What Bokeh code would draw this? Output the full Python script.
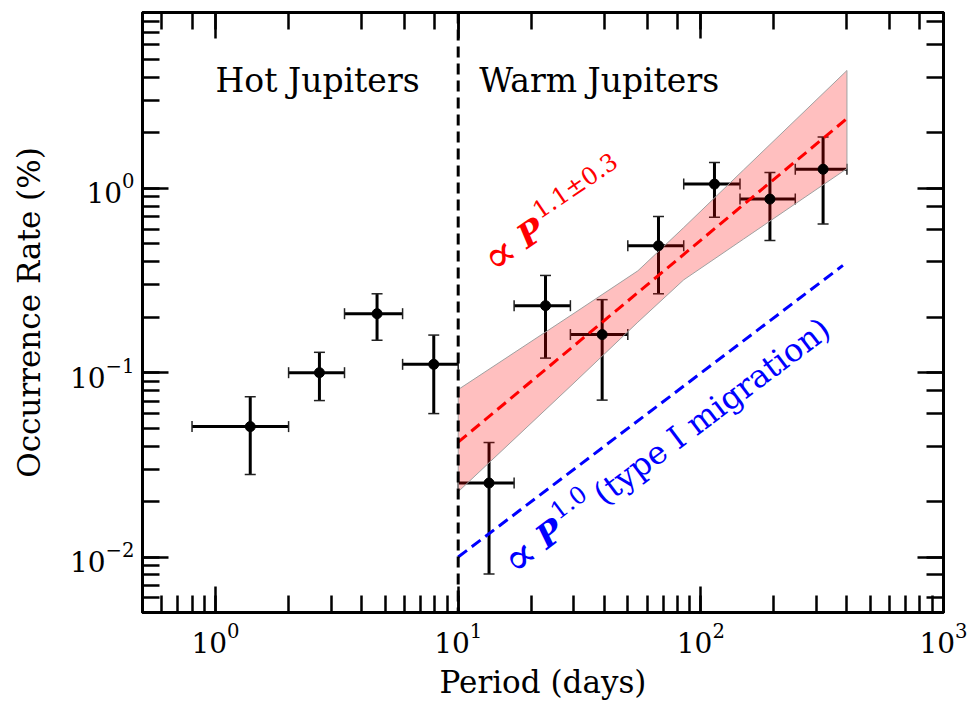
import math
from bokeh.plotting import figure
from bokeh.models import (Whisker, TeeHead, ColumnDataSource, Label, Span, LogAxis,
                          LogTicker, CustomJSTickFormatter, Range1d)
from bokeh.embed import file_html
from bokeh.resources import INLINE

# ---- data ----
period      = [1.39, 2.68, 4.63, 7.93, 13.4, 22.9, 39.2, 66.9, 113.8, 192.6, 319.0]
period_lo   = [0.80, 2.0, 3.4, 5.9, 10.0, 17.0, 29.0, 50.0, 85.0, 145.0, 245.0]
period_hi   = [2.0, 3.4, 5.9, 10.0, 17.0, 29.0, 50.0, 85.0, 145.0, 245.0, 400.0]
rate        = [0.051, 0.100, 0.209, 0.111, 0.0252, 0.231, 0.161, 0.488, 1.055, 0.875, 1.27]
rate_lo     = [0.028, 0.0706, 0.150, 0.060, 0.0081, 0.120, 0.071, 0.268, 0.697, 0.521, 0.641]
rate_hi     = [0.074, 0.129, 0.268, 0.160, 0.0418, 0.337, 0.249, 0.703, 1.38, 1.22, 1.90]

fit_x       = [10.0, 395.0]
fit_y       = [0.042, 2.36]
band_x      = [10.0, 30.0, 55.0, 85.0, 150.0, 400.0]
band_lo     = [0.0226, 0.088, 0.188, 0.319, 0.531, 1.28]
band_hi     = [0.081, 0.210, 0.357, 0.613, 1.26, 4.36]
mig_x       = [10.0, 385.0]
mig_y       = [0.010, 0.382]
divide_P    = 10.0

FONT = "DejaVu Serif"

p = figure(width=976, height=702, x_axis_type="log", y_axis_type="log",
           x_range=Range1d(0.5, 1000), y_range=Range1d(0.005, 9.0),
           output_backend="svg", toolbar_location=None,
           min_border_left=142, min_border_right=33, min_border_top=12, min_border_bottom=89)
p.xgrid.visible = False
p.ygrid.visible = False
p.background_fill_color = "white"
p.border_fill_color = "white"
p.outline_line_color = "black"
p.outline_line_width = 3
p.outline_line_alpha = 1.0

def style_axis(ax, labels=True):
    ax.axis_line_color = "black"
    ax.axis_line_width = 3
    ax.major_tick_in = 26
    ax.major_tick_out = 0
    ax.minor_tick_in = 17
    ax.minor_tick_out = 0
    ax.major_tick_line_width = 2.5
    ax.minor_tick_line_width = 2.5
    ax.major_tick_line_color = "black"
    ax.minor_tick_line_color = "black"
    ax.major_label_text_font = FONT
    ax.major_label_text_font_size = "28px"
    ax.major_label_text_color = "black"
    ax.axis_label_text_font = FONT
    ax.axis_label_text_font_size = "31px"
    ax.axis_label_text_font_style = "normal"
    ax.axis_label_text_color = "black"
    if not labels:
        ax.formatter = CustomJSTickFormatter(code="return ''")
        ax.major_label_standoff = 0

style_axis(p.xaxis[0])
style_axis(p.yaxis[0])
p.xaxis[0].axis_label = "Period (days)"
p.yaxis[0].axis_label = "Occurrence Rate (%)"
p.xaxis[0].major_label_standoff = 10
p.yaxis[0].major_label_standoff = 8
p.xaxis[0].axis_label_standoff = 8
p.yaxis[0].axis_label_standoff = 20

right = LogAxis(ticker=LogTicker())
above = LogAxis(ticker=LogTicker())
style_axis(right, labels=False)
style_axis(above, labels=False)
p.add_layout(right, "right")
p.add_layout(above, "above")

# band
band_poly_x = band_x + band_x[::-1]
band_poly_y = band_lo + band_hi[::-1]
p.patch(band_poly_x, band_poly_y, fill_color="red", fill_alpha=0.25,
        line_color="#a0a0a0", line_width=1)

# fit lines
p.line(fit_x, fit_y, line_color="red", line_width=3, line_dash="11 6")
p.line(mig_x, mig_y, line_color="blue", line_width=3, line_dash="11 6")

# separator
p.add_layout(Span(location=divide_P, dimension="height", line_color="black",
                  line_width=3, line_dash="11 6"))

# error bars
src = ColumnDataSource(dict(x=period, y=rate, xlo=period_lo, xhi=period_hi,
                            ylo=rate_lo, yhi=rate_hi))
for dim, base, lo, hi in (("height", "x", "ylo", "yhi"), ("width", "y", "xlo", "xhi")):
    w = Whisker(source=src, base=base, lower=lo, upper=hi, dimension=dim,
                line_color="black", line_width=3,
                upper_head=TeeHead(size=11, line_width=1.5, line_color="#222222"),
                lower_head=TeeHead(size=11, line_width=1.5, line_color="#222222"))
    p.add_layout(w)
p.scatter("x", "y", source=src, size=10, color="black")

# region labels
p.add_layout(Label(x=1.0, y=3.0, text="Hot Jupiters", text_font=FONT,
                   text_font_size="33px", text_color="black"))
p.add_layout(Label(x=12.2, y=3.0, text="Warm Jupiters", text_font=FONT,
                   text_font_size="33px", text_color="black"))

def rotated_pieces(x0, y0, angle_deg, color, pieces):
    a = math.radians(angle_deg)
    for text, size, style, along, rise in pieces:
        xo = along * math.cos(a) - rise * math.sin(a)
        yo = along * math.sin(a) + rise * math.cos(a)
        p.add_layout(Label(x=x0, y=y0, x_offset=xo, y_offset=yo, text=text,
                           angle=a, text_font=FONT, text_font_size=size,
                           text_font_style=style, text_color=color,
                           text_baseline="alphabetic", text_align="left"))

rotated_pieces(13.1, 0.395, 34, "red", [
    ("∝", "46px", "normal", 0, 0),
    ("P", "33px", "bold italic", 41, 0),
    ("1.1±0.3", "24px", "normal", 68, 14),
])
rotated_pieces(15.9, 0.0090, 37, "blue", [
    ("∝", "46px", "normal", 0, 0),
    ("P", "33px", "bold italic", 41, 0),
    ("1.0", "24px", "normal", 68, 14),
    ("(type I migration)", "32px", "normal", 113, 0),
])

open("out.html", "w").write(file_html(p, INLINE))
